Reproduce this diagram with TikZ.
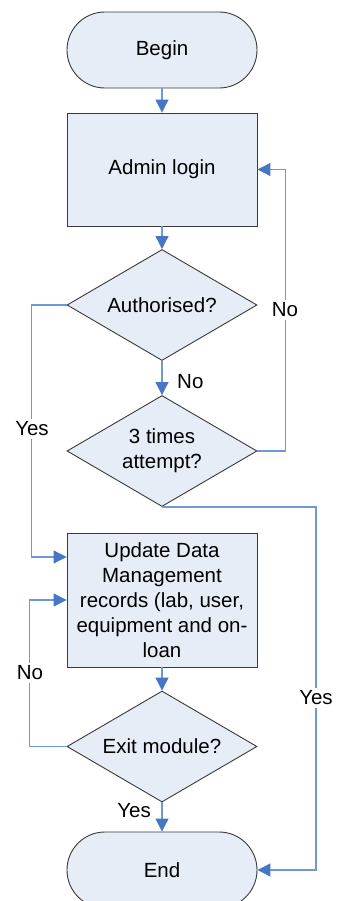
\documentclass[tikz,border=0pt]{standalone}
\usepackage{fontspec}
\setmainfont{Liberation Sans}
\usetikzlibrary{shapes.geometric,arrows.meta}
\definecolor{boxfill}{HTML}{E7EDF7}
\definecolor{boxline}{HTML}{3A3A3A}
\definecolor{conn}{HTML}{6E98D6}
\definecolor{tipc}{HTML}{4676C4}
\tikzset{
  base/.style={draw=boxline, line width=0.9pt, fill=boxfill, font=\fontsize{20.5}{25}\selectfont, align=center, inner sep=0pt},
  terminal/.style={base, rectangle, rounded corners=37.9pt, minimum width=190pt, minimum height=76pt},
  procbox/.style={base, rectangle, minimum width=190pt},
  decision/.style={base, diamond, aspect=1.7, minimum width=190pt, minimum height=111pt},
  link/.style={draw=conn, line width=1.1pt, -{Triangle[width=13pt,length=13pt,color=tipc]}},
  plain/.style={draw=conn, line width=1.1pt},
  lbl/.style={font=\fontsize{20.5}{25}\selectfont, inner sep=1pt},
  lblw/.style={lbl, fill=white, inner ysep=3pt}
}
\begin{document}
\begin{tikzpicture}[x=1pt,y=-1pt]
\useasboundingbox (0,0) rectangle (337,901);
\clip (0,0) rectangle (337,901);
\fill[white] (0,0) rectangle (337,901);

\node[terminal] (begin) at (162,50) {Begin};
\node[procbox, minimum height=113pt] (admin) at (162,169.5) {Admin login};
\node[decision] (auth) at (162,305) {Authorised?};
\node[decision] (tries) at (162,451) {3 times\\attempt?};
\node[procbox, minimum height=134pt] (update) at (162,600) {Update Data\\Management\\records (lab, user,\\equipment and on-\\loan};
\node[decision] (exit) at (162,746.5) {Exit module?};
\node[terminal] (end) at (162,870) {End};

\draw[link] (begin) -- (admin);
\draw[link] (admin) -- (auth);
\draw[link] (auth) -- (tries);
\node[lbl, anchor=west] (lno1) at (176,382) {No};

\draw[link] (tries.east) -- ++(28,0) |- (admin.east);
\node[lblw] (lno2) at (285,310) {No};

\draw[link] (auth.west) -- ++(-35,0) |- ([yshift=43pt]update.west);
\node[lblw] (lyes1) at (32,429) {Yes};

\draw[link] (tries.south) -- ++(154,0) |- (end.east);
\node[lblw] (lyes2) at (316,698) {Yes};

\draw[link] (update) -- (exit);
\draw[link] (exit.west) -- ++(-37,0) |- (update.west);
\node[lblw] (lno3) at (30,673) {No};

\draw[link] (exit) -- (end);
\node[lbl, anchor=east] (lyes3) at (152,811) {Yes};
\end{tikzpicture}
\end{document}
